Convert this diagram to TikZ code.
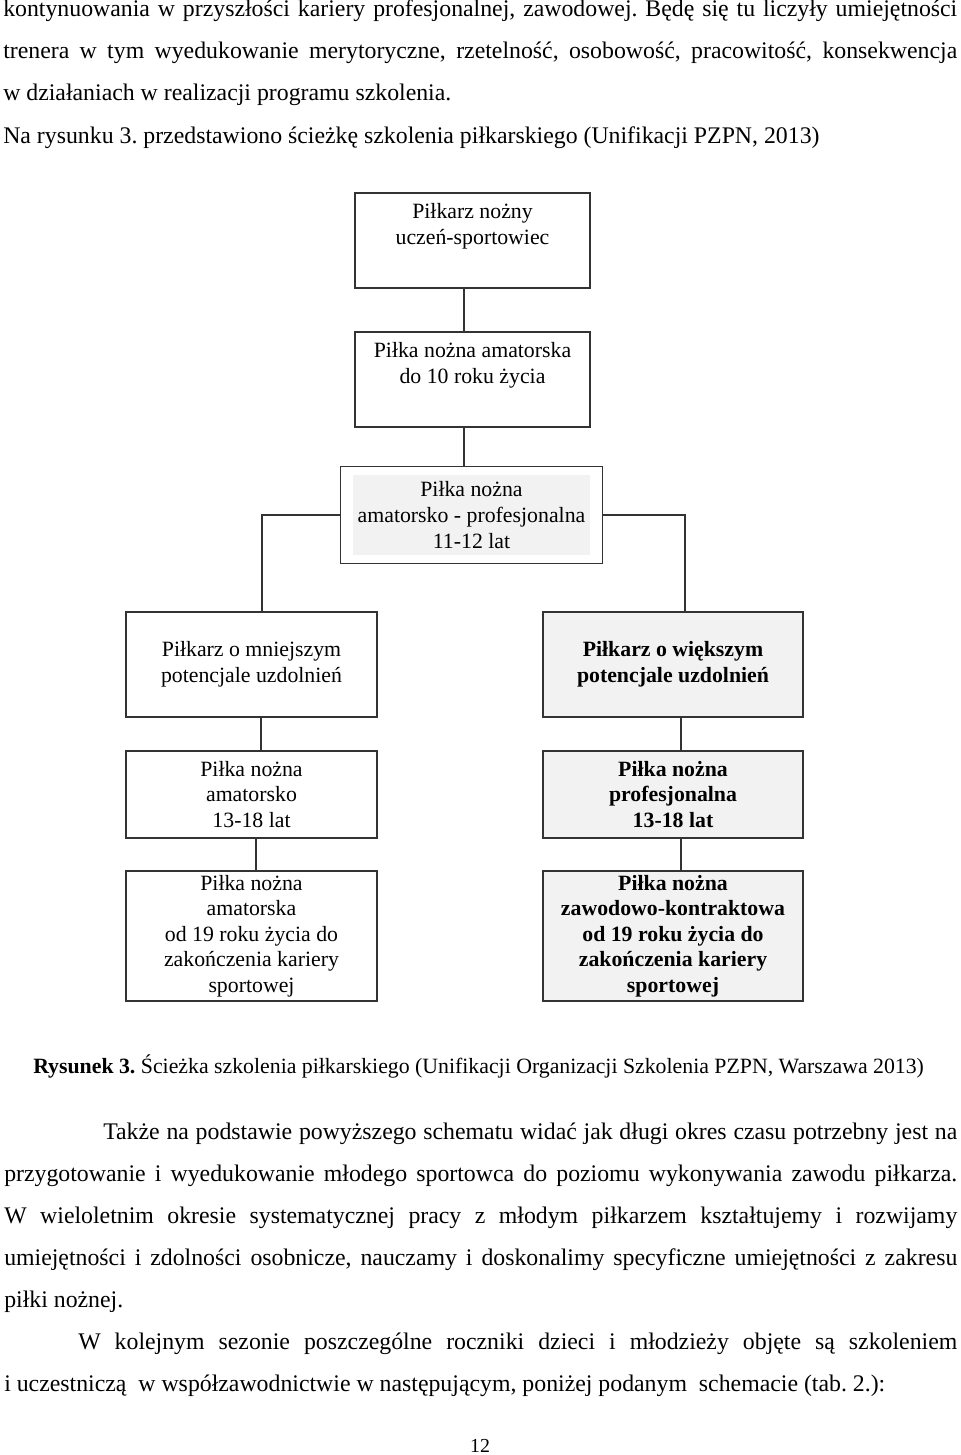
\documentclass[tikz,border=0pt]{standalone}
\usepackage{fontspec}
\setmainfont{Liberation Serif}
\usetikzlibrary{fit}
\frenchspacing
\definecolor{boxgray}{HTML}{F2F2F2}
\definecolor{edge}{HTML}{333333}
\tikzset{
  bodytxt/.style={anchor=base west, inner sep=0pt, font=\fontsize{17.85}{20}\selectfont},
  captxt/.style={anchor=base west, inner sep=0pt, font=\fontsize{16.35}{19}\selectfont},
  pbox/.style={draw=edge, line width=1.1pt, align=center, inner sep=0pt,
    font=\fontsize{16.35}{19.2}\selectfont},
  gbox/.style={pbox, fill=boxgray, font=\fontsize{16.35}{19.2}\selectfont\bfseries},
  linkline/.style={draw=edge, line width=1.1pt}
}
\newcommand{\jline}[1]{\makebox[715.5pt][s]{#1}}
\begin{document}
\begin{tikzpicture}[x=0.75pt,y=-0.75pt]
\useasboundingbox[fill=white] (0,0) rectangle (960,1455);
% top text
\node[bodytxt] (t1) at (3,17) {\jline{kontynuowania w przyszłości kariery profesjonalnej, zawodowej. Będę się tu liczyły umiejętności}};
\node[bodytxt] (t2) at (3,59) {\jline{trenera w tym wyedukowanie merytoryczne, rzetelność, osobowość, pracowitość, konsekwencja}};
\node[bodytxt] (t3) at (3,101) {w działaniach w realizacji programu szkolenia.};
\node[bodytxt] (t4) at (3,144) {Na rysunku 3. przedstawiono ścieżkę szkolenia piłkarskiego (Unifikacji PZPN, 2013)};
% diagram
\node[pbox, minimum width=235*0.75pt, minimum height=95*0.75pt] (b1) at (472.5,240.5)
  {Piłkarz nożny\\uczeń-sportowiec\\\strut};
\node[pbox, minimum width=235*0.75pt, minimum height=95*0.75pt] (b2) at (472.5,379.5)
  {Piłka nożna amatorska\\do 10 roku życia\\\strut};
\node[fill=boxgray, align=center, inner sep=0pt, minimum width=237*0.75pt, minimum height=80*0.75pt,
  font=\fontsize{16.35}{19.2}\selectfont] (b3in) at (471.5,515)
  {Piłka nożna\\amatorsko - profesjonalna\\11-12 lat};
\node[draw=edge, line width=1.1pt, fit=(b3in), inner xsep=9pt, inner ysep=6pt] (b3) {};
\node[pbox, minimum width=251*0.75pt, minimum height=105*0.75pt] (b4l) at (251.5,664.5)
  {Piłkarz o mniejszym\\potencjale uzdolnień};
\node[gbox, minimum width=260*0.75pt, minimum height=105*0.75pt] (b4r) at (673,664.5)
  {Piłkarz o większym\\potencjale uzdolnień};
\node[pbox, minimum width=251*0.75pt, minimum height=87*0.75pt] (b5l) at (251.5,794.5)
  {Piłka nożna\\amatorsko\\13-18 lat};
\node[gbox, minimum width=260*0.75pt, minimum height=87*0.75pt] (b5r) at (673,794.5)
  {Piłka nożna\\profesjonalna\\13-18 lat};
\node[pbox, minimum width=251*0.75pt, minimum height=130*0.75pt] (b6l) at (251.5,936)
  {Piłka nożna\\amatorska\\od 19 roku życia do\\zakończenia kariery\\sportowej};
\node[gbox, minimum width=260*0.75pt, minimum height=130*0.75pt] (b6r) at (673,936)
  {Piłka nożna\\zawodowo-kontraktowa\\od 19 roku życia do\\zakończenia kariery\\sportowej};
% connectors
\coordinate (c1) at ([xshift=-6.4pt]b1.south);
\coordinate (c2) at ([xshift=-6.4pt]b2.south);
\draw[linkline] (c1) -- (c1 |- b2.north);
\draw[linkline] (c2) -- (c2 |- b3.north);
\draw[linkline] (b3.west) -| ([xshift=7.9pt]b4l.north);
\draw[linkline] (b3.east) -| ([xshift=9pt]b4r.north);
\draw[linkline] ([xshift=7.1pt]b4l.south) -- ([xshift=7.1pt]b5l.north);
\draw[linkline] ([xshift=6pt]b4r.south) -- ([xshift=6pt]b5r.north);
\draw[linkline] ([xshift=3.4pt]b5l.south) -- ([xshift=3.4pt]b6l.north);
\draw[linkline] ([xshift=6pt]b5r.south) -- ([xshift=6pt]b6r.north);
% caption
\node[captxt] (capt) at (33,1073) {\textbf{Rysunek 3.} Ścieżka szkolenia piłkarskiego (Unifikacji Organizacji Szkolenia PZPN, Warszawa 2013)};
% lower text
\node[bodytxt] (p1) at (103,1139) {\makebox[640.5pt][s]{Także na podstawie powyższego schematu widać jak długi okres czasu potrzebny jest na}};
\node[bodytxt] (p2) at (4,1181) {\makebox[714.75pt][s]{przygotowanie i wyedukowanie młodego sportowca do poziomu wykonywania zawodu piłkarza.}};
\node[bodytxt] (p3) at (4,1223) {\makebox[714.75pt][s]{W wieloletnim okresie systematycznej pracy z młodym piłkarzem kształtujemy i rozwijamy}};
\node[bodytxt] (p4) at (4,1265) {\makebox[714.75pt][s]{umiejętności i zdolności osobnicze, nauczamy i doskonalimy specyficzne umiejętności z zakresu}};
\node[bodytxt] (p5) at (4,1307) {piłki nożnej.};
\node[bodytxt] (p6) at (78,1349) {\makebox[659.25pt][s]{W kolejnym sezonie poszczególne roczniki dzieci i młodzieży objęte są szkoleniem}};
\node[bodytxt] (p7) at (4,1391) {i uczestniczą\ \ w współzawodnictwie w następującym, poniżej podanym\ \ schemacie (tab. 2.):};
\node[anchor=base, inner sep=0pt, font=\fontsize{14.9}{17}\selectfont] (pg) at (480,1452) {12};
\end{tikzpicture}
\end{document}
